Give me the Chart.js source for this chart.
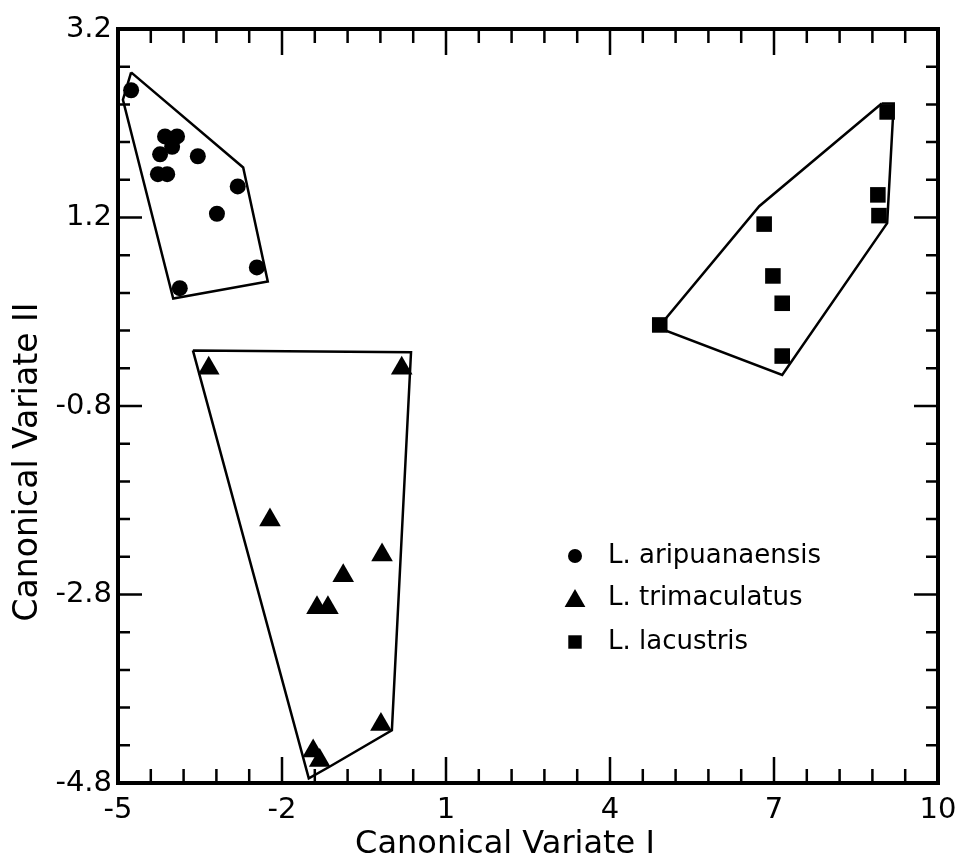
<!DOCTYPE html>
<html>
<head>
<meta charset="utf-8">
<title>Canonical Variates</title>
<script src="https://cdn.jsdelivr.net/npm/chart.js@4.4.1/dist/chart.umd.min.js"></script>
<style>
  html, body { margin: 0; padding: 0; background: #fff; }
  #wrap { width: 955px; height: 860px; }
</style>
</head>
<body>
<div id="wrap"><canvas id="grafico" width="955" height="860"></canvas></div>
<script>
// Ejes
const xTickValues = [-5, -2, 1, 4, 7, 10];
const yTickValues = [-4.8, -2.8, -0.8, 1.2, 3.2];
const xTitle = 'Canonical Variate I';
const yTitle = 'Canonical Variate II';

// Especies
const speciesNames = ['L. aripuanaensis', 'L. trimaculatus', 'L. lacustris'];

// L. aripuanaensis (círculos)
const aripuanaensisX = [-4.76, -4.14, -3.92, -4.01, -4.23, -4.27, -4.10, -3.54, -2.81, -3.19, -2.46, -3.87];
const aripuanaensisY = [2.55, 2.06, 2.06, 1.95, 1.87, 1.66, 1.66, 1.85, 1.53, 1.24, 0.67, 0.45];
const aripuanaensisHullX = [-4.76, -2.71, -2.26, -3.99, -4.91, -4.76];
const aripuanaensisHullY = [2.74, 1.73, 0.52, 0.34, 2.45, 2.74];

// L. trimaculatus (triángulos)
const trimaculatusX = [-3.34, 0.19, -2.22, -0.17, -0.88, -1.36, -1.16, -0.19, -1.43, -1.31];
const trimaculatusY = [-0.40, -0.40, -2.01, -2.38, -2.60, -2.94, -2.94, -4.18, -4.46, -4.56];
const trimaculatusHullX = [-3.63, 0.36, 0.01, -1.14, -1.51, -3.63];
const trimaculatusHullY = [-0.21, -0.23, -4.24, -4.63, -4.75, -0.21];

// L. lacustris (cuadrados)
const lacustrisX = [9.07, 8.90, 8.92, 6.82, 6.98, 7.15, 4.91, 7.15];
const lacustrisY = [2.32, 1.44, 1.22, 1.13, 0.58, 0.29, 0.06, -0.27];
const lacustrisHullX = [8.97, 9.19, 9.07, 7.15, 4.88, 6.73, 8.97];
const lacustrisHullY = [2.41, 2.41, 1.14, -0.47, 0.03, 1.32, 2.41];

const puntos = (xs, ys) => xs.map((x, i) => ({ x: x, y: ys[i] }));

const FUENTE = "'DejaVu Sans', sans-serif";

function serieMarcas(label, xs, ys, estilo, radio) {
    return {
        label: label,
        data: puntos(xs, ys),
        pointStyle: estilo,
        pointRadius: radio,
        pointHoverRadius: radio,
        pointBackgroundColor: '#000',
        pointBorderColor: '#000',
        pointBorderWidth: 0,
        showLine: false,
        esMarca: true
    };
}

function serieContorno(xs, ys) {
    return {
        label: '',
        data: puntos(xs, ys),
        showLine: true,
        borderColor: '#000',
        borderWidth: 2.5,
        pointRadius: 0,
        pointHoverRadius: 0,
        fill: false,
        tension: 0,
        esMarca: false
    };
}

// Marco con marcas hacia adentro en los cuatro lados
const marcoPlugin = {
    id: 'marco',
    beforeDatasetsDraw(chart) {
        const { ctx, chartArea: a, scales: { x, y } } = chart;
        ctx.save();
        ctx.strokeStyle = '#000';
        ctx.lineCap = 'butt';
        ctx.lineWidth = 2.5;
        ctx.beginPath();
        for (let i = 0; i <= 25; i++) {
            const px = x.getPixelForValue(-5 + 0.6 * i);
            const len = i % 5 === 0 ? 26 : 14;
            ctx.moveTo(px, a.bottom); ctx.lineTo(px, a.bottom - len);
            ctx.moveTo(px, a.top); ctx.lineTo(px, a.top + len);
        }
        for (let i = 0; i <= 20; i++) {
            const py = y.getPixelForValue(-4.8 + 0.4 * i);
            const len = i % 5 === 0 ? 24 : 12;
            ctx.moveTo(a.left, py); ctx.lineTo(a.left + len, py);
            ctx.moveTo(a.right, py); ctx.lineTo(a.right - len, py);
        }
        ctx.stroke();
        ctx.lineWidth = 4;
        ctx.lineJoin = 'miter';
        ctx.strokeRect(a.left, a.top, a.right - a.left, a.bottom - a.top);
        ctx.restore();
    },
    afterDatasetsDraw(chart) {
        // Leyenda dentro del área
        const ctx = chart.ctx;
        const filas = [556, 598, 642];
        const radios = { circle: 7, triangle: 12, rect: 9.5 };
        let k = 0;
        ctx.save();
        chart.data.datasets.forEach(ds => {
            if (!ds.esMarca) return;
            const yy = filas[k];
            const ajuste = ds.pointStyle === 'triangle' ? 3 : 0;
            ctx.fillStyle = '#000';
            ctx.strokeStyle = '#000';
            Chart.helpers.drawPoint(ctx, {
                pointStyle: ds.pointStyle,
                radius: radios[ds.pointStyle],
                rotation: 0,
                borderWidth: 0
            }, 575, yy + ajuste);
            ctx.font = '26px ' + FUENTE;
            ctx.textAlign = 'left';
            ctx.textBaseline = 'middle';
            ctx.fillText(ds.label, 608, yy);
            k++;
        });
        ctx.restore();
    },
    afterDraw(chart) {
        const ctx = chart.ctx;
        ctx.save();
        ctx.fillStyle = '#000';
        ctx.textAlign = 'center';
        ctx.textBaseline = 'middle';
        ctx.font = '32px ' + FUENTE;
        ctx.fillText(xTitle, 505, 845);
        ctx.translate(28, 462);
        ctx.rotate(-Math.PI / 2);
        ctx.font = '33px ' + FUENTE;
        ctx.fillText(yTitle, 0, 0);
        ctx.restore();
    }
};

new Chart(document.getElementById('grafico'), {
    type: 'scatter',
    data: {
        datasets: [
            serieContorno(aripuanaensisHullX, aripuanaensisHullY),
            serieContorno(trimaculatusHullX, trimaculatusHullY),
            serieContorno(lacustrisHullX, lacustrisHullY),
            serieMarcas(speciesNames[0], aripuanaensisX, aripuanaensisY, 'circle', 8),
            serieMarcas(speciesNames[1], trimaculatusX, trimaculatusY, 'triangle', 12.5),
            serieMarcas(speciesNames[2], lacustrisX, lacustrisY, 'rect', 11)
        ]
    },
    options: {
        responsive: false,
        animation: false,
        events: [],
        layout: { padding: { top: 29, right: 17, bottom: 0, left: 0 }, autoPadding: false },
        plugins: {
            legend: { display: false },
            tooltip: { enabled: false }
        },
        scales: {
            x: {
                type: 'linear',
                min: -5,
                max: 10,
                grid: { display: false, drawTicks: false },
                border: { display: false },
                afterBuildTicks: s => { s.ticks = xTickValues.map(v => ({ value: v })); },
                afterFit: s => { s.height = 77; s.paddingLeft = 0; s.paddingRight = 0; },
                ticks: {
                    color: '#000',
                    padding: 10,
                    maxRotation: 0,
                    autoSkip: false,
                    font: { family: FUENTE, size: 29 },
                    callback: v => String(v)
                }
            },
            y: {
                type: 'linear',
                min: -4.8,
                max: 3.2,
                grid: { display: false, drawTicks: false },
                border: { display: false },
                afterBuildTicks: s => { s.ticks = yTickValues.map(v => ({ value: v })); },
                afterFit: s => { s.width = 118; s.paddingTop = 0; s.paddingBottom = 0; },
                ticks: {
                    color: '#000',
                    padding: 6,
                    autoSkip: false,
                    font: { family: FUENTE, size: 29 },
                    callback: v => Number(v).toFixed(1)
                }
            }
        }
    },
    plugins: [marcoPlugin]
});
</script>
</body>
</html>
